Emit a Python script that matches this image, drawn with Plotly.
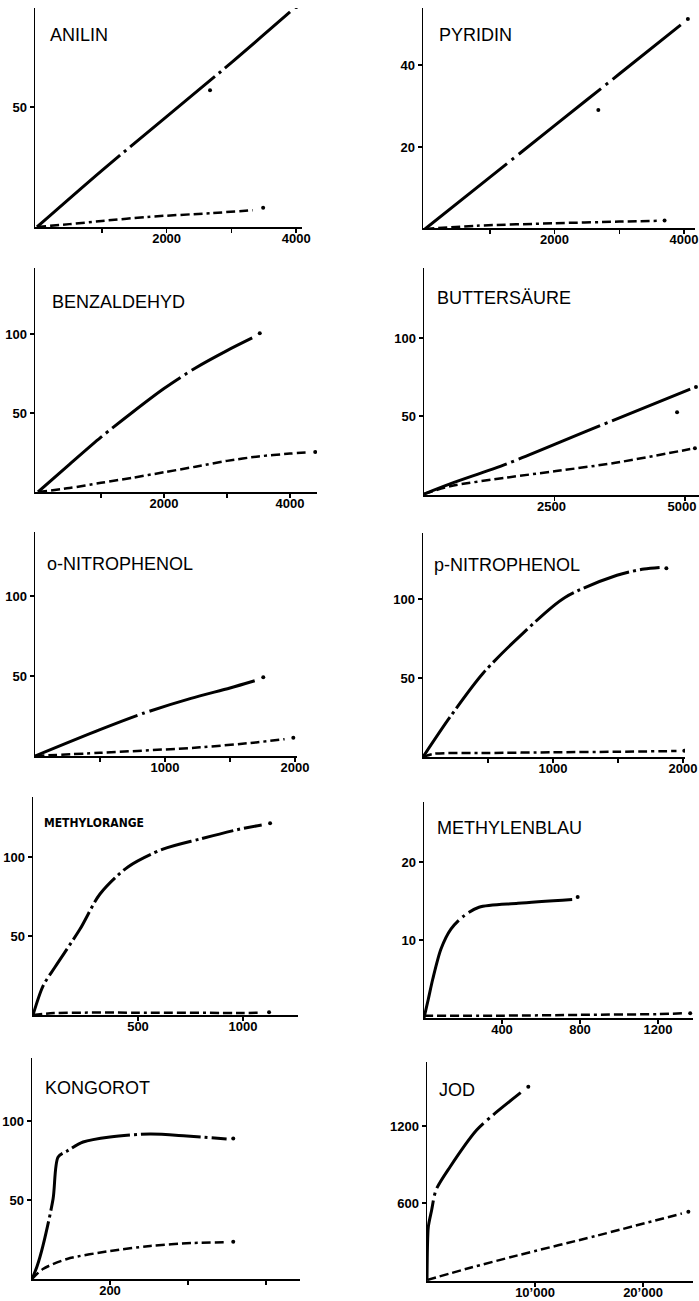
import plotly.graph_objects as go

W, H = 699, 1301

# ---------------- data ----------------
titles = ["ANILIN", "PYRIDIN", "BENZALDEHYD", "BUTTERSÄURE", "o-NITROPHENOL",
          "p-NITROPHENOL", "METHYLORANGE", "METHYLENBLAU", "KONGOROT", "JOD"]

anilin_up_x = [0, 1000, 2000, 3000, 3905, 4000]
anilin_up_y = [0, 23.5, 46, 68.5, 89.6, 91.7]
anilin_lo_x = [0, 500, 1000, 1700, 2700, 3330, 3490]
anilin_lo_y = [0, 1.2, 2.5, 4.2, 5.8, 7.0, 8.0]
anilin_pt_x = [2670]
anilin_pt_y = [57]

pyridin_up_x = [0, 1000, 2000, 3000, 3950, 4060]
pyridin_up_y = [0, 12.6, 25.2, 37.8, 49.8, 51.2]
pyridin_lo_x = [0, 800, 2000, 3000, 3600, 3700]
pyridin_lo_y = [0, 0.8, 1.4, 1.8, 2.0, 2.1]
pyridin_pt_x = [2677]
pyridin_pt_y = [29]

benz_up_x = [0, 500, 1000, 1500, 2000, 2500, 3000, 3400, 3520]
benz_up_y = [0, 17.5, 34.7, 50.5, 65.5, 78.5, 89.5, 97.5, 100.5]
benz_lo_x = [0, 500, 1000, 1500, 2000, 2500, 3000, 3500, 4000, 4300, 4400]
benz_lo_y = [0, 2.5, 5.8, 9.0, 12.5, 16.0, 19.7, 22.5, 24.3, 25.1, 25.3]

butter_up_x = [0, 500, 1600, 3220, 5100, 5210]
butter_up_y = [0, 6.5, 19.5, 41.7, 67.2, 68.6]
butter_lo_x = [0, 500, 1585, 2530, 3667, 5100, 5190]
butter_lo_y = [0, 5.0, 10.5, 14.7, 20.0, 28.8, 29.4]
butter_pt_x = [4848]
butter_pt_y = [52.4]

onitro_up_x = [0, 500, 833, 1200, 1500, 1690, 1756]
onitro_up_y = [0, 16.5, 26.7, 36.0, 42.5, 47.0, 49.2]
onitro_lo_x = [0, 500, 1269, 1700, 1920, 1987]
onitro_lo_y = [0, 2.0, 5.4, 8.5, 10.5, 11.4]

pnitro_up_x = [0, 208, 462, 762, 1092, 1492, 1700, 1820, 1872]
pnitro_up_y = [0, 25.3, 53, 77.8, 101, 115, 119, 120, 119.4]
pnitro_lo_x = [0, 80, 500, 1000, 1500, 1950, 2010]
pnitro_lo_y = [0, 2.0, 2.5, 3.0, 3.3, 3.8, 4.0]

morange_up_x = [0, 48, 105, 224, 319, 452, 619, 795, 986, 1089, 1129]
morange_up_y = [0, 18.4, 30.4, 54.4, 76.6, 93.7, 105, 111.4, 117.7, 120.2, 121.3]
morange_lo_x = [0, 100, 500, 1000, 1090, 1124]
morange_lo_y = [0, 1.2, 1.5, 1.3, 1.4, 1.7]

mblau_up_x = [0, 22, 45, 87, 138, 205, 282, 482, 762, 788]
mblau_up_y = [0, 2.4, 5.0, 8.85, 11.4, 13.1, 14.2, 14.7, 15.2, 15.5]
mblau_lo_x = [0, 400, 800, 1200, 1330, 1365]
mblau_lo_y = [0.3, 0.3, 0.4, 0.5, 0.6, 0.6]

kongo_up_x = [0, 13, 28, 54, 67, 90, 131, 200, 303, 397, 499, 516]
kongo_up_y = [0, 8, 20.9, 50.6, 77.2, 81, 86.7, 89.9, 91.8, 90.5, 88.6, 89.0]
kongo_lo_x = [0, 28, 90, 200, 303, 413, 500, 516]
kongo_lo_y = [0, 6.3, 12.7, 17.7, 20.9, 22.8, 23.2, 23.6]

jod_up_x = [0, 40, 123, 432, 833, 2130, 4600, 6110, 8673, 9380]
jod_up_y = [0, 250, 415, 546, 701, 881, 1169, 1286, 1460, 1507]
jod_lo_x = [0, 4000, 8300, 15700, 23600, 24200]
jod_lo_y = [0, 95, 190, 345, 518, 532]

x_ticks = [[1000, 2000, 3000, 4000], [1000, 2000, 3000, 4000], [1000, 2000, 3000, 4000],
           [2500, 5000], [500, 1000, 1500, 2000], [500, 1000, 1500, 2000],
           [500, 1000], [400, 800, 1200], [200, 400, 600], [10000, 20000]]
x_tick_text = [["", "2000", "", "4000"], ["", "2000", "", "4000"], ["", "2000", "", "4000"],
               ["2500", "5000"], ["", "1000", "", "2000"], ["", "1000", "", "2000"],
               ["500", "1000"], ["400", "800", "1200"], ["200", "", ""], ["10’000", "20’000"]]
y_ticks = [[50], [20, 40], [50, 100], [50, 100], [50, 100], [50, 100],
           [50, 100], [10, 20], [50, 100], [600, 1200]]
y_tick_text = [["50"], ["20", "40"], ["50", "100"], ["50", "100"], ["50", "100"], ["50", "100"],
               ["50", "100"], ["10", "20"], ["50", "100"], ["600", "1200"]]

series = [
    (anilin_up_x, anilin_up_y, anilin_lo_x, anilin_lo_y, anilin_pt_x, anilin_pt_y),
    (pyridin_up_x, pyridin_up_y, pyridin_lo_x, pyridin_lo_y, pyridin_pt_x, pyridin_pt_y),
    (benz_up_x, benz_up_y, benz_lo_x, benz_lo_y, [], []),
    (butter_up_x, butter_up_y, butter_lo_x, butter_lo_y, butter_pt_x, butter_pt_y),
    (onitro_up_x, onitro_up_y, onitro_lo_x, onitro_lo_y, [], []),
    (pnitro_up_x, pnitro_up_y, pnitro_lo_x, pnitro_lo_y, [], []),
    (morange_up_x, morange_up_y, morange_lo_x, morange_lo_y, [], []),
    (mblau_up_x, mblau_up_y, mblau_lo_x, mblau_lo_y, [], []),
    (kongo_up_x, kongo_up_y, kongo_lo_x, kongo_lo_y, [], []),
    (jod_up_x, jod_up_y, jod_lo_x, jod_lo_y, [], []),
]

# ---------------- layout geometry (pixels) ----------------
# left, right, bottom, top of the axes box; x0 px of x=0, px per x unit; y0 px of y=0, px per y unit
geom = [
    (35, 302, 227, 8, 37, 0.0648, 227, 2.4),
    (423, 695, 228, 8, 425, 0.06475, 229, 4.1),
    (35, 317, 492, 268, 38, 0.063, 492, 1.58),
    (424, 699, 495, 268, 424, 0.0522, 494, 1.56),
    (35, 297, 756, 532, 35, 0.13, 756, 1.6),
    (423, 685, 757, 533, 423, 0.13, 757, 1.58),
    (33, 298, 1015, 797, 33, 0.21, 1015, 1.58),
    (424, 693, 1018, 802, 424, 0.195, 1018, 7.8),
    (32, 300, 1279, 1058, 32, 0.39, 1279, 1.58),
    (427, 693, 1281, 1062, 427, 0.0108, 1280, 0.1283),
]
label_shift = [0, 0, 0, -3, 0, 0, 0, 0, 0, 0]
title_pos = [(48, 35), (437, 35), (50, 302), (435, 298), (45, 564), (432, 565),
             (42, 823), (435, 828), (43, 1088), (437, 1090)]
up_dash = ["110px,5px,3px,5px", "105px,6px,3px,6px", "85px,5px,3px,5px", "88px,5px,3px,5px",
           "110px,5px,3px,5px", "48px,4px,3px,4px", "32px,4px,3px,4px", "105px,5px,3px,5px",
           "60px,4px,3px,4px", "80px,5px,3px,5px"]
lo_dash = "9px,4px,9px,4px,9px,4px,9px,4px,3px,4px"

fig = go.Figure()
FONT = "Liberation Sans, Arial, Helvetica, sans-serif"

for i, (ux, uy, lx, ly, px_, py_) in enumerate(series):
    n = "" if i == 0 else str(i + 1)
    xa, ya = "x" + n, "y" + n
    left, right, bottom, top, x0, xs, y0, ys = geom[i]
    # upper line
    fig.add_trace(go.Scatter(x=ux[:-1], y=uy[:-1], mode="lines", xaxis=xa, yaxis=ya,
                             line=dict(color="black", width=3, dash=up_dash[i],
                                       shape="spline", smoothing=0.8),
                             showlegend=False, hoverinfo="skip"))
    fig.add_trace(go.Scatter(x=ux[-1:], y=uy[-1:], mode="markers", xaxis=xa, yaxis=ya,
                             marker=dict(color="black", size=4), showlegend=False, hoverinfo="skip"))
    # lower line
    fig.add_trace(go.Scatter(x=lx[:-1], y=ly[:-1], mode="lines", xaxis=xa, yaxis=ya,
                             line=dict(color="black", width=2.5, dash=lo_dash,
                                       shape="spline", smoothing=0.8),
                             showlegend=False, hoverinfo="skip"))
    fig.add_trace(go.Scatter(x=lx[-1:], y=ly[-1:], mode="markers", xaxis=xa, yaxis=ya,
                             marker=dict(color="black", size=4), showlegend=False, hoverinfo="skip"))
    if px_:
        fig.add_trace(go.Scatter(x=px_, y=py_, mode="markers", xaxis=xa, yaxis=ya,
                                 marker=dict(color="black", size=4), showlegend=False, hoverinfo="skip"))

    xr = [(left - x0) / xs, (right - x0) / xs]
    yr = [(y0 - bottom) / ys, (y0 - top) / ys]
    axcommon = dict(showline=True, linecolor="black", linewidth=1.5, showgrid=False, zeroline=False,
                    ticks="outside", ticklen=4, tickwidth=1.5, tickcolor="black", automargin=False,
                    tickfont=dict(family=FONT, size=13, color="black", weight="bold"))
    fig.layout["xaxis" + n] = dict(domain=[left / W, min(right / W, 1.0)], range=xr, anchor=ya,
                                   tickmode="array", tickvals=x_ticks[i], ticktext=x_tick_text[i],
                                   ticklabelstandoff=-5, ticklabelshift=label_shift[i],
                                   ticklabeloverflow="allow", **axcommon)
    fig.layout["yaxis" + n] = dict(domain=[1 - bottom / H, 1 - top / H], range=yr, anchor=xa,
                                   tickmode="array", tickvals=y_ticks[i], ticktext=y_tick_text[i],
                                   ticklabeloverflow="allow", **axcommon)
    tx, ty = title_pos[i]
    if titles[i] == "METHYLORANGE":
        tf = dict(family="Liberation Sans Narrow, DejaVu Sans Condensed, Arial Narrow, sans-serif",
                  size=12, color="black", weight="bold")
    else:
        tf = dict(family=FONT, size=18, color="black")
    fig.add_annotation(text=titles[i], xref="paper", yref="paper", x=tx / W, y=1 - ty / H,
                       xanchor="left", yanchor="middle", showarrow=False, font=tf)

fig.update_layout(width=W, height=H, margin=dict(l=0, r=0, t=0, b=0, autoexpand=False),
                  paper_bgcolor="white", plot_bgcolor="white")
fig.write_html("out.html", config={"displayModeBar": False, "staticPlot": True},
               post_script="document.body.style.margin='0px';document.body.style.overflow='hidden';")
